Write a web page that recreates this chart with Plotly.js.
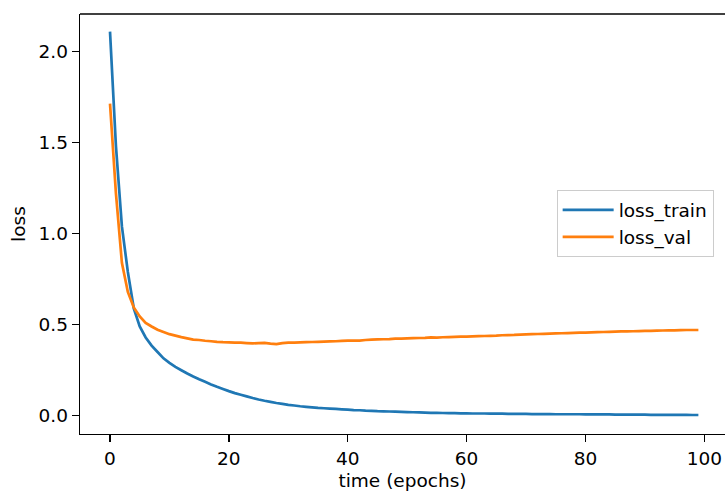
<!DOCTYPE html>
<html>
<head>
<meta charset="utf-8">
<script src="https://cdn.plot.ly/plotly-3.0.1.min.js"></script>
<style>
  html, body { margin: 0; padding: 0; background: #fff; }
  #chart { width: 725px; height: 492px; }
</style>
</head>
<body>
<div id="chart"></div>
<script>
// Epoch index
var epochs = [];
for (var i = 0; i < 100; i++) epochs.push(i);

// Training loss
var lossTrain = [
  2.11, 1.48, 1.04, 0.79, 0.59, 0.49, 0.43, 0.385, 0.35, 0.315,
  0.29, 0.268, 0.25, 0.232, 0.215, 0.2, 0.186, 0.172, 0.159, 0.147,
  0.135, 0.124, 0.115, 0.106, 0.097, 0.089, 0.082, 0.076, 0.07, 0.065,
  0.06, 0.056, 0.052, 0.049, 0.046, 0.043, 0.041, 0.039, 0.037, 0.035,
  0.033, 0.031, 0.030, 0.028, 0.027, 0.025, 0.024, 0.023, 0.022, 0.021,
  0.020, 0.019, 0.018, 0.017, 0.016, 0.016, 0.015, 0.014, 0.014, 0.013,
  0.013, 0.012, 0.012, 0.012, 0.011, 0.011, 0.011, 0.010, 0.010, 0.010,
  0.010, 0.009, 0.009, 0.009, 0.009, 0.008, 0.008, 0.008, 0.008, 0.008,
  0.007, 0.007, 0.007, 0.007, 0.007, 0.006, 0.006, 0.006, 0.006, 0.006,
  0.006, 0.005, 0.005, 0.005, 0.005, 0.005, 0.005, 0.005, 0.004, 0.004
];

// Validation loss
var lossVal = [
  1.715, 1.22, 0.84, 0.68, 0.595, 0.545, 0.51, 0.49, 0.472, 0.46,
  0.448, 0.44, 0.432, 0.425, 0.418, 0.416, 0.412, 0.409, 0.406, 0.404,
  0.403, 0.402, 0.401, 0.399, 0.397, 0.399, 0.400, 0.396, 0.393, 0.399,
  0.401, 0.402, 0.403, 0.404, 0.405, 0.406, 0.407, 0.408, 0.409, 0.411,
  0.412, 0.413, 0.413, 0.416, 0.418, 0.419, 0.420, 0.421, 0.423, 0.424,
  0.425, 0.426, 0.427, 0.428, 0.430, 0.429, 0.431, 0.432, 0.433, 0.434,
  0.435, 0.436, 0.437, 0.438, 0.439, 0.440, 0.442, 0.443, 0.444, 0.446,
  0.447, 0.448, 0.449, 0.450, 0.451, 0.452, 0.453, 0.454, 0.455, 0.456,
  0.457, 0.458, 0.459, 0.460, 0.461, 0.462, 0.463, 0.463, 0.464, 0.465,
  0.466, 0.466, 0.467, 0.468, 0.469, 0.469, 0.470, 0.471, 0.471, 0.471
];

var seriesNames = ["loss_train", "loss_val"];
var xTicks = [0, 20, 40, 60, 80, 100];
var yTicks = [0.0, 0.5, 1.0, 1.5, 2.0];
var yTickText = ["0.0", "0.5", "1.0", "1.5", "2.0"];

var FONT = "DejaVu Sans, sans-serif";
var FS = 18.5;

var traces = [
  { x: epochs, y: lossTrain, name: seriesNames[0], type: "scatter", mode: "lines",
    line: { color: "#1f77b4", width: 2.7, simplify: false } },
  { x: epochs, y: lossVal, name: seriesNames[1], type: "scatter", mode: "lines",
    line: { color: "#ff7f0e", width: 2.7, simplify: false } }
];

var axisCommon = {
  showgrid: false, zeroline: false,
  showline: true, linecolor: "#000", linewidth: 1.3,
  ticks: "outside", ticklen: 7, tickwidth: 1.3, tickcolor: "#000",
  tickfont: { family: FONT, size: FS, color: "#000" }
};

var layout = {
  width: 725, height: 492,
  margin: { l: 80, r: 0, t: 14, b: 58 },
  paper_bgcolor: "#fff", plot_bgcolor: "#fff",
  font: { family: FONT, size: FS, color: "#000" },
  xaxis: Object.assign({}, axisCommon, {
    range: [-5.05, 103.48],
    tickvals: xTicks,
    title: { text: "time (epochs)", font: { family: FONT, size: FS, color: "#000" }, standoff: 6 }
  }),
  yaxis: Object.assign({}, axisCommon, {
    range: [-0.1005, 2.207],
    tickvals: yTicks, ticktext: yTickText,
    title: { text: "loss", font: { family: FONT, size: FS, color: "#000" }, standoff: 8 }
  }),
  shapes: [
    { type: "line", xref: "paper", yref: "paper", x0: 0, x1: 1, y0: 1, y1: 1,
      line: { color: "#000", width: 1.3 } }
  ],
  legend: {
    x: 0.739, y: 0.58, xanchor: "left", yanchor: "top",
    itemwidth: 51,
    bgcolor: "rgba(255,255,255,0.8)", bordercolor: "#cccccc", borderwidth: 1,
    font: { family: FONT, size: FS, color: "#000" }
  },
  showlegend: true
};

Plotly.newPlot("chart", traces, layout, { displayModeBar: false, staticPlot: true });
</script>
</body>
</html>
